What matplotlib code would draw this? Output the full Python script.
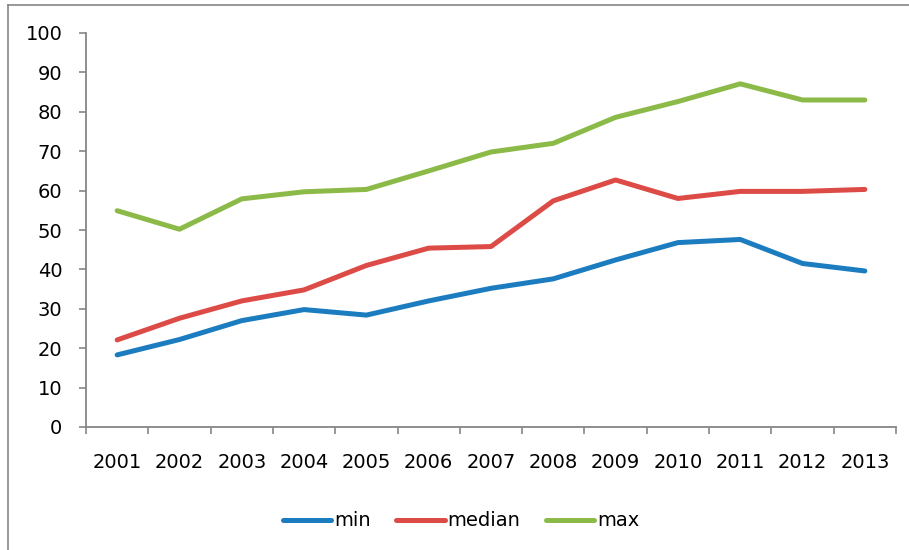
import numpy as np
import matplotlib.pyplot as plt
from matplotlib.lines import Line2D

# datos
anios = ['2001', '2002', '2003', '2004', '2005', '2006', '2007',
         '2008', '2009', '2010', '2011', '2012', '2013']
minimo = [18.3, 22.2, 27.0, 29.8, 28.4, 32.0, 35.2, 37.6, 42.4, 46.8, 47.6, 41.5, 39.6]
mediana = [22.1, 27.6, 32.0, 34.8, 41.0, 45.4, 45.8, 57.4, 62.7, 58.0, 59.8, 59.8, 60.3]
maximo = [54.9, 50.2, 57.9, 59.7, 60.3, 65.0, 69.8, 72.0, 78.6, 82.6, 87.1, 83.0, 83.0]

azul = '#1C7CC0'
rojo = '#DD4B47'
verde = '#8CBA48'
gris = '#868686'

fig = plt.figure(figsize=(9.09, 5.5), dpi=100)
ax = fig.add_axes([86 / 909, 1 - 427 / 550, 810 / 909, 394 / 550])

x = np.arange(len(anios))
ax.plot(x, minimo, color=azul, lw=3.6, label='min', solid_capstyle='round')
ax.plot(x, mediana, color=rojo, lw=3.6, label='median', solid_capstyle='round')
ax.plot(x, maximo, color=verde, lw=3.6, label='max', solid_capstyle='round')

ax.set_xlim(-0.5, len(anios) - 0.5)
ax.set_ylim(0, 100)
ax.set_yticks(range(0, 101, 10))

# etiquetas en el centro, marcas en los límites de cada categoría
ax.set_xticks(x)
ax.set_xticklabels(anios)
ax.set_xticks(np.arange(-0.5, len(anios), 1), minor=True)
ax.tick_params(axis='x', which='major', length=0, pad=19, labelsize=14)
ax.tick_params(axis='x', which='minor', length=5, width=1.2, color=gris)
ax.tick_params(axis='y', length=5, width=1.2, color=gris, pad=12, labelsize=14)

for lado in ['top', 'right']:
    ax.spines[lado].set_visible(False)
for lado in ['left', 'bottom']:
    ax.spines[lado].set_color(gris)
    ax.spines[lado].set_linewidth(1.3)

ax.legend(loc='upper center', bbox_to_anchor=(0.463, -0.17), ncol=3, frameon=False,
          fontsize=14, handlelength=2.5, handletextpad=0.15, columnspacing=1.3)

# marco exterior del gráfico
fig.add_artist(Line2D([8 / 909, 8 / 909], [0, 1 - 5 / 550], color=gris, lw=1.2))
fig.add_artist(Line2D([8 / 909, 1], [1 - 5 / 550, 1 - 5 / 550], color=gris, lw=1.2))

fig.savefig('out.png', dpi=100)
